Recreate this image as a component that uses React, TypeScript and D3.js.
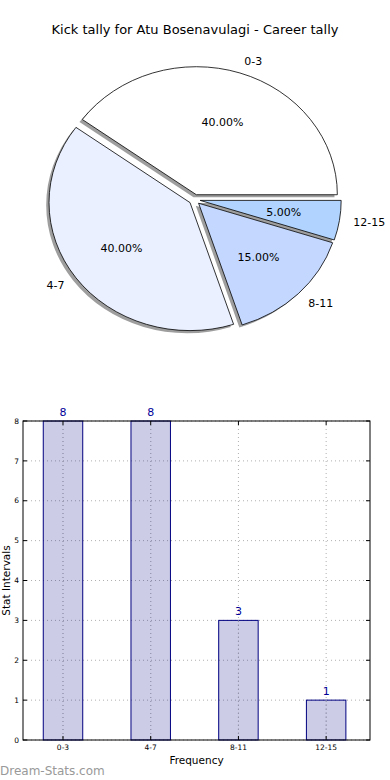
import React from "react";
import * as d3 from "d3";

const categories = ["0-3", "4-7", "8-11", "12-15"];
const counts = [8, 8, 3, 1];
const pieColors = ["#ffffff", "#eaf0ff", "#c4d8ff", "#b0d4ff"];
const yTicks = [0, 1, 2, 3, 4, 5, 6, 7, 8];

const W = 390, H = 780;
const font = "DejaVu Sans, sans-serif";

// pie geometry (matplotlib-style: ccw from 3 o'clock, stretched ellipse)
const cx = 194.6, cy = 199.6, rx = 141, ry = 128, explode = 0.04;

const PieChart = () => {
  const total = d3.sum(counts);
  const arc = d3.arc<any>().innerRadius(0).outerRadius(1);
  let theta = 0;
  const slices = counts.map((c, i) => {
    const t1 = theta;
    const t2 = theta + (c / total) * 2 * Math.PI;
    theta = t2;
    const mid = (t1 + t2) / 2;
    const ox = cx + explode * rx * Math.cos(mid);
    const oy = cy - explode * ry * Math.sin(mid);
    return {
      cat: categories[i],
      pct: (c / total) * 100,
      color: pieColors[i],
      d: arc({ startAngle: Math.PI / 2 - t2, endAngle: Math.PI / 2 - t1 }) as string,
      ox, oy, mid,
    };
  });

  return (
    <g>
      {slices.map((s, i) => (
        <path key={"sh" + i} d={s.d}
          transform={`translate(${s.ox - 0.02 * rx},${s.oy + 0.02 * ry}) scale(${rx},${ry})`}
          fill="#000" fillOpacity={0.38} stroke="none" />
      ))}
      {slices.map((s, i) => (
        <path key={"p" + i} d={s.d}
          transform={`translate(${s.ox},${s.oy}) scale(${rx},${ry})`}
          fill={s.color} stroke="#000" strokeWidth={0.8}
          vectorEffect="non-scaling-stroke" />
      ))}
      {slices.map((s, i) => {
        const lx = s.ox + 1.1 * rx * Math.cos(s.mid);
        const ly = s.oy - 1.1 * ry * Math.sin(s.mid);
        const px = s.ox + 0.6 * rx * Math.cos(s.mid);
        const py = s.oy - 0.6 * ry * Math.sin(s.mid);
        return (
          <g key={"l" + i} fontFamily={font} fontSize={11}>
            <text x={lx} y={ly} dy="0.35em"
              textAnchor={Math.cos(s.mid) >= 0 ? "start" : "end"}>{s.cat}</text>
            <text x={px} y={py} dy="0.35em" textAnchor="middle">{s.pct.toFixed(2)}%</text>
          </g>
        );
      })}
    </g>
  );
};

const BarChart = () => {
  const left = 23, right = 370, top = 421, bottom = 740;
  const x = d3.scaleLinear().domain([-0.456, 3.5]).range([left, right]);
  const y = d3.scaleLinear().domain([0, 8]).range([bottom, top]);
  const bw = x(0.45) - x(0);
  return (
    <g fontFamily={font}>
      {yTicks.map(t => (
        <line key={"gy" + t} x1={left} x2={right} y1={y(t)} y2={y(t)}
          stroke="#b0b0b0" strokeWidth={1} strokeDasharray="1,3" />
      ))}
      {categories.map((c, i) => (
        <line key={"gx" + i} x1={x(i)} x2={x(i)} y1={top} y2={bottom}
          stroke="#b0b0b0" strokeWidth={1} strokeDasharray="1,3" />
      ))}
      {counts.map((v, i) => (
        <g key={"b" + i}>
          <rect x={x(i) - bw / 2} y={y(v)} width={bw} height={y(0) - y(v)}
            fill="#000080" fillOpacity={0.2} stroke="#000080" strokeWidth={1} />
          <text x={x(i)} y={y(v) - 5} textAnchor="middle" fontSize={11} fill="#000099">{v}</text>
        </g>
      ))}
      {counts.map((v, i) => (
        <line key={"gx2" + i} x1={x(i)} x2={x(i)} y1={y(v)} y2={bottom}
          stroke="#9a9ab0" strokeWidth={1} strokeDasharray="1,3" />
      ))}
      <rect x={left} y={top} width={right - left} height={bottom - top}
        fill="none" stroke="#000" strokeWidth={1} />
      {yTicks.map(t => (
        <g key={"yt" + t}>
          <line x1={left} x2={left + 4} y1={y(t)} y2={y(t)} stroke="#000" />
          <line x1={right - 4} x2={right} y1={y(t)} y2={y(t)} stroke="#000" />
          <text x={left - 4} y={y(t)} dy="0.35em" textAnchor="end" fontSize={7.5}>{t}</text>
        </g>
      ))}
      {categories.map((c, i) => (
        <g key={"xt" + i}>
          <line x1={x(i)} x2={x(i)} y1={bottom - 4} y2={bottom} stroke="#000" />
          <line x1={x(i)} x2={x(i)} y1={top} y2={top + 4} stroke="#000" />
          <text x={x(i)} y={bottom + 10} textAnchor="middle" fontSize={7.5}>{c}</text>
        </g>
      ))}
      <text x={(left + right) / 2} y={764} textAnchor="middle" fontSize={10.5}>Frequency</text>
      <text transform={`translate(${10},${(top + bottom) / 2}) rotate(-90)`}
        textAnchor="middle" fontSize={10.5}>Stat Intervals</text>
    </g>
  );
};

export default function App() {
  return (
    <svg width={W} height={H} style={{ position: "absolute", left: 0, top: 0, background: "#fff" }}>
      <rect width={W} height={H} fill="#fff" />
      <text x={0} y={775} fontFamily={font} fontSize={12} fill="#999999">Dream-Stats.com</text>
      <text x={195} y={34} textAnchor="middle" fontFamily={font} fontSize={13}>
        Kick tally for Atu Bosenavulagi - Career tally
      </text>
      <PieChart />
      <BarChart />
    </svg>
  );
}
